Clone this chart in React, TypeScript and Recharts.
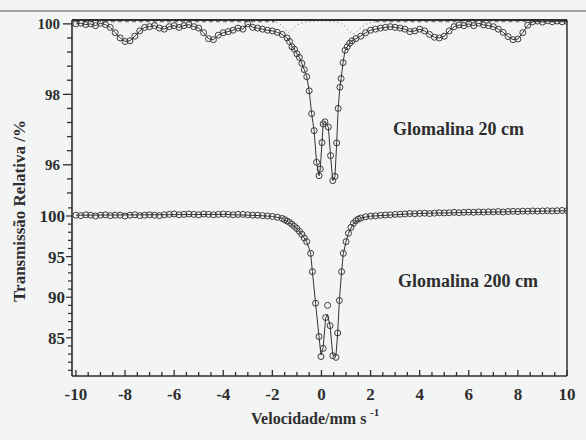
import React from "react";
import { ComposedChart, Line, Scatter, XAxis, YAxis, ReferenceLine } from "recharts";

// ---------- data (velocity mm/s, transmission %) ----------
const topPoints: [number, number][] = [
  [-10, 100.0], [-9.8, 100.02], [-9.6, 99.98], [-9.4, 100.0], [-9.2, 99.95], [-9.0, 100.02], [-8.8, 99.98],
  [-8.6, 99.9], [-8.4, 99.75], [-8.2, 99.6], [-8.0, 99.5], [-7.8, 99.52], [-7.6, 99.65], [-7.4, 99.8],
  [-7.2, 99.9], [-7.0, 99.92], [-6.8, 99.95], [-6.6, 99.88], [-6.4, 99.85], [-6.2, 99.92], [-6.0, 99.95],
  [-5.8, 99.9], [-5.6, 99.95], [-5.4, 99.98], [-5.2, 99.92], [-5.0, 99.88], [-4.8, 99.75], [-4.6, 99.58],
  [-4.4, 99.55], [-4.2, 99.68], [-4.0, 99.75], [-3.8, 99.78], [-3.6, 99.82], [-3.4, 99.88], [-3.2, 99.85],
  [-3.0, 100.0], [-2.8, 99.9], [-2.6, 99.88], [-2.4, 99.85], [-2.2, 99.82], [-2.0, 99.8], [-1.8, 99.76],
  [-1.6, 99.7], [-1.4, 99.6],
  [-1.3, 99.5], [-1.2, 99.35], [-1.1, 99.28], [-1.0, 99.15], [-0.9, 99.05], [-0.8, 98.88], [-0.7, 98.7],
  [-0.6, 98.5], [-0.5, 98.1], [-0.4, 97.45], [-0.3, 96.97], [-0.2, 96.07], [-0.1, 95.69], [-0.05, 95.88],
  [0.02, 96.63], [0.07, 97.16], [0.14, 97.22], [0.28, 97.07], [0.37, 96.26], [0.46, 95.55], [0.55, 95.67],
  [0.62, 96.62], [0.68, 97.6], [0.75, 98.2], [0.8, 98.45], [0.88, 98.9], [0.96, 99.25], [1.05, 99.35],
  [1.15, 99.45], [1.25, 99.52],
  [1.4, 99.58], [1.6, 99.65], [1.8, 99.75], [2.0, 99.82], [2.2, 99.85], [2.4, 99.88], [2.6, 99.9],
  [2.8, 99.92], [3.0, 99.9], [3.2, 99.88], [3.4, 99.85], [3.6, 99.78], [3.8, 99.8], [4.0, 99.85],
  [4.2, 99.8], [4.4, 99.7], [4.6, 99.62], [4.8, 99.6], [5.0, 99.65], [5.2, 99.8], [5.4, 99.92],
  [5.6, 99.97], [5.8, 99.95], [6.0, 100.0], [6.2, 99.95], [6.4, 100.02], [6.6, 99.97], [6.8, 99.95],
  [7.0, 99.92], [7.2, 99.85], [7.4, 99.76], [7.6, 99.64], [7.8, 99.55], [8.0, 99.57], [8.2, 99.75],
  [8.4, 99.96], [8.6, 100.06], [8.8, 100.08], [9.0, 100.05], [9.2, 100.09], [9.4, 100.06], [9.6, 100.08],
  [9.8, 100.06], [10.0, 100.07],
];

const topDashLeft: [number, number][] = [[-10, 100.06], [-1.9, 100.06]];
const topDashRight: [number, number][] = [[2.2, 100.06], [10, 100.06]];
const topDotted: [number, number][] = [
  [-2.0, 100.06], [-1.7, 100.0], [-1.5, 99.86], [-1.35, 99.76], [-1.2, 99.84], [-1.0, 99.96],
  [-0.6, 100.05], [0, 100.08], [0.6, 100.05], [0.9, 99.96], [1.1, 99.82], [1.3, 99.72],
  [1.5, 99.82], [1.8, 99.98], [2.2, 100.06],
];

const bottomPoints: [number, number][] = [
  [-10, 100.1], [-9.8, 100.05], [-9.6, 100.15], [-9.4, 100.1], [-9.2, 100.0], [-9.0, 100.1], [-8.8, 100.15],
  [-8.6, 100.05], [-8.4, 100.1], [-8.2, 100.1], [-8.0, 100.0], [-7.8, 100.1], [-7.6, 100.15], [-7.4, 100.05],
  [-7.2, 100.1], [-7.0, 100.15], [-6.8, 100.1], [-6.6, 100.05], [-6.4, 100.15], [-6.2, 100.2], [-6.0, 100.25],
  [-5.8, 100.15], [-5.6, 100.2], [-5.4, 100.25], [-5.2, 100.2], [-5.0, 100.15], [-4.8, 100.25], [-4.6, 100.2],
  [-4.4, 100.15], [-4.2, 100.2], [-4.0, 100.25], [-3.8, 100.2], [-3.6, 100.15], [-3.4, 100.2], [-3.2, 100.2],
  [-3.0, 100.15], [-2.8, 100.1], [-2.6, 100.1], [-2.4, 100.05], [-2.2, 100.0], [-2.0, 99.95], [-1.8, 99.85],
  [-1.6, 99.7],
  [-1.5, 99.55], [-1.4, 99.38], [-1.3, 99.2], [-1.2, 98.98], [-1.1, 98.72], [-1.0, 98.45], [-0.9, 98.12],
  [-0.8, 97.75], [-0.7, 97.3], [-0.6, 96.84], [-0.44, 95.4], [-0.37, 93.15], [-0.24, 89.26], [-0.1, 85.15],
  [-0.02, 82.7], [0.07, 83.7], [0.17, 87.5], [0.25, 89.0], [0.35, 86.5], [0.46, 82.8], [0.59, 82.6],
  [0.66, 85.6], [0.73, 89.6], [0.82, 93.15], [0.89, 95.4], [1.0, 96.84], [1.1, 97.87], [1.2, 98.6],
  [1.3, 99.1], [1.4, 99.42], [1.5, 99.62], [1.6, 99.75], [1.8, 99.9], [2.0, 99.98],
  [2.2, 100.02], [2.4, 100.08], [2.6, 100.12], [2.8, 100.15], [3.0, 100.2], [3.2, 100.22], [3.4, 100.25],
  [3.6, 100.3], [3.8, 100.28], [4.0, 100.32], [4.2, 100.35], [4.4, 100.3], [4.6, 100.35], [4.8, 100.4],
  [5.0, 100.38], [5.2, 100.4], [5.4, 100.45], [5.6, 100.4], [5.8, 100.45], [6.0, 100.48], [6.2, 100.45],
  [6.4, 100.5], [6.6, 100.48], [6.8, 100.52], [7.0, 100.5], [7.2, 100.55], [7.4, 100.5], [7.6, 100.55],
  [7.8, 100.58], [8.0, 100.55], [8.2, 100.6], [8.4, 100.58], [8.6, 100.62], [8.8, 100.6], [9.0, 100.62],
  [9.2, 100.65], [9.4, 100.62], [9.6, 100.65], [9.8, 100.68], [10.0, 100.65],
];

const bottomFit: [number, number][] = [
  [-10, 100.1], [-4, 100.2], [-2.5, 100.05], [-2.0, 99.95], [-1.6, 99.72], [-1.2, 98.97], [-0.9, 98.12],
  [-0.7, 97.3], [-0.6, 96.84], [-0.44, 95.4], [-0.37, 93.15], [-0.24, 89.26], [-0.1, 85.15], [-0.02, 82.9],
  [0.07, 83.8], [0.17, 87.4], [0.24, 87.9], [0.35, 86.5], [0.46, 82.9], [0.59, 82.8], [0.66, 85.6],
  [0.73, 89.6], [0.82, 93.15], [0.89, 95.4], [1.0, 96.84], [1.1, 97.87], [1.3, 99.1], [1.6, 99.75],
  [2.0, 99.98], [4.0, 100.32], [10, 100.65],
];

const xTicks = [-10, -9.5, -9, -8.5, -8, -7.5, -7, -6.5, -6, -5.5, -5, -4.5, -4, -3.5, -3, -2.5, -2, -1.5, -1, -0.5,
  0, 0.5, 1, 1.5, 2, 2.5, 3, 3.5, 4, 4.5, 5, 5.5, 6, 6.5, 7, 7.5, 8, 8.5, 9, 9.5, 10];
const xMajor = [-10, -8, -6, -4, -2, 0, 2, 4, 6, 8, 10];
const topTicks = [95.2, 95.6, 96, 96.4, 96.8, 97.2, 97.6, 98, 98.4, 98.8, 99.2, 99.6, 100];
const topMajor = [96, 98, 100];
const bottomTicks = [81, 82, 83, 84, 85, 86, 87, 88, 89, 90, 91, 92, 93, 94, 95, 96, 97, 98, 99, 100, 101];
const bottomMajor = [85, 90, 95, 100];

const toRows = (pts: [number, number][]) => pts.map(([v, T]) => ({ v, T }));

const INK = "#2e2e2e";
const FONT = "'Liberation Serif', 'Times New Roman', serif";
const isIn = (arr: number[], v: number) => arr.some((a) => Math.abs(a - v) < 1e-6);

const OpenCircle = (p: any) =>
  p.cx == null ? null : <circle cx={p.cx} cy={p.cy} r={3} fill="none" stroke="#3a3a3a" strokeWidth={1} />;

const TopYTick = (p: any) => {
  const v = p.payload.value;
  const major = isIn(topMajor, v);
  return (
    <g>
      <line x1={p.x} x2={p.x - (major ? 9 : 5)} y1={p.y} y2={p.y} stroke={INK} strokeWidth={1.3} />
      {major && (
        <text x={p.x - 12} y={p.y} dy="0.36em" textAnchor="end" fontFamily={FONT} fontWeight="bold" fontSize={15} fill={INK}>
          {v}
        </text>
      )}
    </g>
  );
};

const BottomYTick = (p: any) => {
  const v = p.payload.value;
  const major = isIn(bottomMajor, v);
  return (
    <g>
      <line x1={p.x} x2={p.x - (major ? 6 : 4)} y1={p.y} y2={p.y} stroke={INK} strokeWidth={1.2} />
      {major && (
        <text x={p.x - 7} y={p.y} dy="0.36em" textAnchor="end" fontFamily={FONT} fontWeight="bold" fontSize={17} fill={INK}>
          {v}
        </text>
      )}
    </g>
  );
};

const XTick = (p: any) => {
  const v = p.payload.value;
  const major = isIn(xMajor, v);
  return (
    <g>
      <line x1={p.x} x2={p.x} y1={p.y} y2={p.y - (major ? 6 : 4)} stroke={INK} strokeWidth={1.3} />
      {major && (
        <text x={p.x} y={p.y + 24} textAnchor="middle" fontFamily={FONT} fontWeight="bold" fontSize={17} fill={INK}>
          {v}
        </text>
      )}
    </g>
  );
};

const X_DOMAIN: [number, number] = [-10.16, 10];

function TopPanel() {
  return (
    <ComposedChart width={586} height={205} margin={{ top: 20, right: 19, bottom: 5, left: 0 }}>
      <XAxis type="number" dataKey="v" domain={X_DOMAIN} allowDataOverflow hide />
      <YAxis
        type="number"
        dataKey="T"
        domain={[95, 100.11]}
        allowDataOverflow
        width={72}
        ticks={topTicks}
        interval={0}
        tick={(p: any) => <TopYTick {...p} />}
        tickLine={false}
        tickSize={0}
        tickMargin={0}
        axisLine={{ stroke: INK, strokeWidth: 1.6 }}
      />
      <ReferenceLine y={100.11} stroke={INK} strokeWidth={2} />
      <ReferenceLine x={10} stroke={INK} strokeWidth={1.5} />
      <Line data={toRows(topDashLeft)} dataKey="T" stroke="#555" strokeWidth={1} strokeDasharray="4 3" dot={false} isAnimationActive={false} />
      <Line data={toRows(topDashRight)} dataKey="T" stroke="#555" strokeWidth={1} strokeDasharray="4 3" dot={false} isAnimationActive={false} />
      <Line data={toRows(topDotted)} dataKey="T" type="monotone" stroke="#666" strokeWidth={1} strokeDasharray="1 3" dot={false} isAnimationActive={false} />
      <Line data={toRows(topPoints)} dataKey="T" stroke="#333" strokeWidth={1} dot={false} isAnimationActive={false} />
      <Scatter data={toRows(topPoints)} dataKey="T" shape={OpenCircle} isAnimationActive={false} />
    </ComposedChart>
  );
}

function BottomPanel() {
  return (
    <ComposedChart width={586} height={440} margin={{ top: 200, right: 19, bottom: 24, left: 0 }}>
      <XAxis
        type="number"
        dataKey="v"
        domain={X_DOMAIN}
        allowDataOverflow
        ticks={xTicks}
        interval={0}
        height={40}
        tick={(p: any) => <XTick {...p} />}
        tickLine={false}
        tickSize={0}
        tickMargin={0}
        axisLine={{ stroke: INK, strokeWidth: 1.6 }}
      />
      <YAxis
        type="number"
        dataKey="T"
        domain={[80.3, 101.97]}
        allowDataOverflow
        width={72}
        ticks={bottomTicks}
        interval={0}
        tick={(p: any) => <BottomYTick {...p} />}
        tickLine={false}
        tickSize={0}
        tickMargin={0}
        axisLine={{ stroke: INK, strokeWidth: 1.6 }}
      />
      <ReferenceLine x={10} stroke={INK} strokeWidth={1.5} />
      <Line data={toRows(bottomFit)} dataKey="T" stroke="#333" strokeWidth={1} dot={false} isAnimationActive={false} />
      <Scatter data={toRows(bottomPoints)} dataKey="T" shape={OpenCircle} isAnimationActive={false} />
    </ComposedChart>
  );
}

export default function App() {
  return (
    <div style={{ position: "absolute", left: 0, top: 0, width: 586, height: 440, background: "#f3f5f5", overflow: "hidden" }}>
      <div style={{ position: "absolute", left: 0, top: 0 }}>
        <BottomPanel />
      </div>
      <div style={{ position: "absolute", left: 0, top: 0 }}>
        <TopPanel />
      </div>
      <svg width={586} height={440} style={{ position: "absolute", left: 0, top: 0, pointerEvents: "none" }}>
        <line x1={0} x2={586} y1={11} y2={11} stroke="#555" strokeWidth={1.2} />
        <text x={19} y={211} transform="rotate(-90 19 211)" dy="0.35em" textAnchor="middle" fontFamily={FONT} fontWeight="bold" fontSize={17} fill={INK}>
          Transmissão Relativa /%
        </text>
        <text x={251} y={424} fontFamily={FONT} fontWeight="bold" fontSize={16} fill={INK}>
          Velocidade/mm s
        </text>
        <text x={370} y={416} fontFamily={FONT} fontWeight="bold" fontSize={11} fill={INK}>
          -1
        </text>
        <text x={393} y={135} fontFamily={FONT} fontWeight="bold" fontSize={18} fill={INK}>
          Glomalina 20 cm
        </text>
        <text x={398} y={287} fontFamily={FONT} fontWeight="bold" fontSize={18} fill={INK}>
          Glomalina 200 cm
        </text>
      </svg>
    </div>
  );
}
